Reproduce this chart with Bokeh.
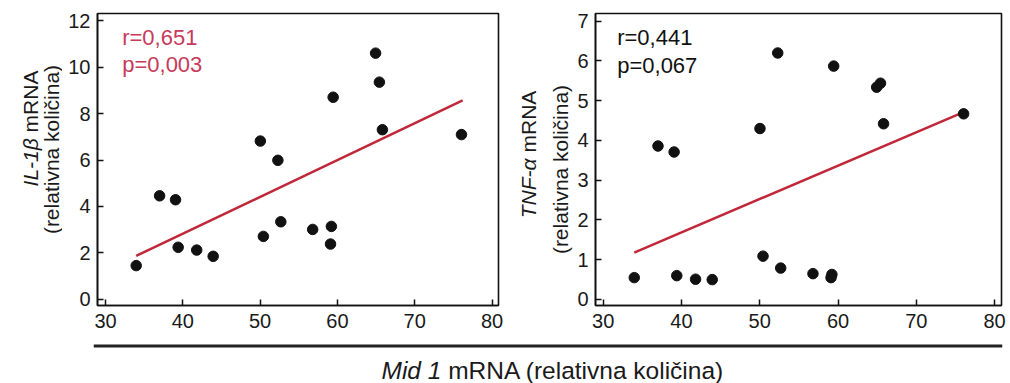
import math
from bokeh.plotting import figure
from bokeh.models import Range1d, FixedTicker, Label, Span
from bokeh.layouts import column, row
from bokeh.embed import file_html
from bokeh.resources import INLINE

# ---------------- data ----------------
mid1 = [33.97, 37.0, 39.06, 39.4, 41.8, 43.93, 50.03, 50.42, 52.3, 52.68,
        56.8, 59.22, 59.11, 59.45, 64.94, 65.43, 65.82, 76.05]
il1b = [1.45, 4.46, 4.29, 2.24, 2.12, 1.85, 6.82, 2.71, 5.99, 3.34,
        3.01, 3.14, 2.38, 8.71, 10.61, 9.36, 7.31, 7.10]
tnfa = [0.55, 3.86, 3.71, 0.60, 0.51, 0.50, 4.30, 1.09, 6.20, 0.79,
        0.65, 0.63, 0.55, 5.87, 5.34, 5.44, 4.42, 4.67]

il1b_fit_x = [33.97, 76.2]
il1b_fit_y = [1.87, 8.57]
tnfa_fit_x = [33.96, 76.12]
tnfa_fit_y = [1.18, 4.72]

x_ticks = [30, 40, 50, 60, 70, 80]
il1b_ticks = [0, 2, 4, 6, 8, 10, 12]
tnfa_ticks = [0, 1, 2, 3, 4, 5, 6, 7]

il1b_stats = ["r=0,651", "p=0,003"]
tnfa_stats = ["r=0,441", "p=0,067"]

il1b_label = ("IL-1\u03b2", "mRNA")
tnfa_label = ("TNF-\u03b1", "mRNA")
y_label_2 = "(relativna koli\u010dina)"
x_label = ("Mid 1", "mRNA (relativna koli\u010dina)")

# ---------------- styling ----------------
FONT = "Liberation Sans"
BLACK = "#111111"
TXT = "#1a1a1a"
RED_LINE = "#c0283a"
RED_TEXT = "#c73a5b"
TOP_H = 338          # height of the upper row
TOTAL_H = 383


def blank_fig(x0, x1, y_top, y_bottom, **kw):
    """Figure whose data coordinates equal canvas pixels (for text/decoration)."""
    p = figure(frame_width=int(x1 - x0), frame_height=int(y_bottom - y_top),
               x_range=Range1d(x0, x1), y_range=Range1d(y_bottom, y_top),
               min_border_left=kw.get("mbl", 0), min_border_right=kw.get("mbr", 0),
               min_border_top=0, min_border_bottom=0,
               x_axis_type=None, y_axis_type=None,
               toolbar_location=None, output_backend="svg")
    p.outline_line_color = None
    p.xgrid.visible = False
    p.ygrid.visible = False
    return p


def ylabel_fig(x0, x1, lab1, lab1_italic_w, col1, col2, c1, c2):
    p = blank_fig(x0, x1, 0, TOP_H)
    fs = 21
    total_w = (lab1_italic_w + 278 + 833 + 722 + 722 + 667) * fs / 1000.0
    start = c1 + total_w / 2.0
    p.add_layout(Label(x=col1, y=start, text=lab1[0], angle=math.pi / 2,
                       text_font=FONT, text_font_style="italic", text_font_size="21px",
                       text_color=TXT, text_align="left", text_baseline="middle"))
    second = start - (lab1_italic_w + 278) * fs / 1000.0
    p.add_layout(Label(x=col1, y=second, text=lab1[1], angle=math.pi / 2,
                       text_font=FONT, text_font_size="21px",
                       text_color=TXT, text_align="left", text_baseline="middle"))
    p.add_layout(Label(x=col2, y=c2, text=y_label_2, angle=math.pi / 2,
                       text_font=FONT, text_font_size="21px",
                       text_color=TXT, text_align="center", text_baseline="middle"))
    return p


def make_panel(fl, ft, fw, fh, xr, yr, yticks, ys, fitx, fity, stats, stats_color,
               stat_x, stat_y1, stat_y2, mb_left, mb_right):
    p = figure(frame_width=fw, frame_height=fh,
               x_range=Range1d(*xr), y_range=Range1d(*yr),
               min_border_left=mb_left, min_border_right=mb_right,
               min_border_top=ft, min_border_bottom=TOP_H - ft - fh,
               toolbar_location=None, output_backend="svg")
    p.background_fill_color = "white"
    p.border_fill_color = "white"
    p.outline_line_color = BLACK
    p.outline_line_width = 1.6
    p.xgrid.visible = False
    p.ygrid.visible = False

    for ax, ticks, so in ((p.xaxis, x_ticks, 8), (p.yaxis, yticks, 7)):
        ax.ticker = FixedTicker(ticks=ticks)
        ax.major_tick_in = 6
        ax.major_tick_out = 0
        ax.minor_tick_line_color = None
        ax.axis_line_width = 1.6
        ax.axis_line_color = BLACK
        ax.major_tick_line_color = BLACK
        ax.major_tick_line_width = 1.5
        ax.major_label_text_font = FONT
        ax.major_label_text_font_size = "20px"
        ax.major_label_text_color = TXT
        ax.major_label_standoff = so

    p.line(fitx, fity, line_color=RED_LINE, line_width=2.5)
    p.scatter(mid1, ys, size=10.5, color=BLACK)

    def dx(px):
        return xr[0] + (px - fl) / fw * (xr[1] - xr[0])

    def dy(py):
        return yr[0] + (ft + fh - py) / fh * (yr[1] - yr[0])

    for txt, py in ((stats[0], stat_y1), (stats[1], stat_y2)):
        p.add_layout(Label(x=dx(stat_x), y=dy(py), text=txt, text_font=FONT,
                           text_font_size="22px", text_color=stats_color,
                           text_align="left", text_baseline="middle"))
    return p


# left label column: canvas x 0..62 ; left panel canvas x 62..510 (frame 97..498)
lab1 = ylabel_fig(0, 62, il1b_label, 278 + 556 + 333 + 556 + 572,
                  col1=30, col2=51, c1=115, c2=136)
p1 = make_panel(fl=97, ft=12, fw=401, fh=292, xr=(28.965, 80.84), yr=(-0.27, 12.32),
                yticks=il1b_ticks, ys=il1b, fitx=il1b_fit_x, fity=il1b_fit_y,
                stats=il1b_stats, stats_color=RED_TEXT,
                stat_x=121.7, stat_y1=35.8, stat_y2=62.8,
                mb_left=97 - 62, mb_right=12)

# right label column: canvas x 510..573 ; right panel canvas x 573..1010 (frame 595..1001)
lab2 = ylabel_fig(510, 573, tnfa_label, 611 + 722 + 611 + 333 + 578,
                  col1=528, col2=560, c1=141, c2=156)
p2 = make_panel(fl=595, ft=13, fw=406, fh=292, xr=(29.016, 80.89), yr=(-0.151, 7.193),
                yticks=tnfa_ticks, ys=tnfa, fitx=tnfa_fit_x, fity=tnfa_fit_y,
                stats=tnfa_stats, stats_color=BLACK,
                stat_x=616.7, stat_y1=36.6, stat_y2=65.0,
                mb_left=595 - 573, mb_right=9)

# bottom: separator line and common x label (canvas x 0..1010, y 338..383)
p3 = blank_fig(93, 1002, TOP_H, TOTAL_H, mbl=93, mbr=8)
p3.add_layout(Span(location=345.5, dimension="width", line_width=3, line_color="#222222"))
fsx = 24.5
w_italic = 2445 * fsx / 1000.0
w_space = 278 * fsx / 1000.0
w_rest = 11279 * fsx / 1000.0
center_x = 552.5
start_x = center_x - (w_italic + w_space + w_rest) / 2.0
mid_y = 370.0
p3.add_layout(Label(x=start_x, y=mid_y, text=x_label[0], text_font=FONT,
                    text_font_style="italic", text_font_size="24.5px", text_color=TXT,
                    text_align="left", text_baseline="middle"))
p3.add_layout(Label(x=start_x + w_italic + w_space, y=mid_y, text=x_label[1],
                    text_font=FONT, text_font_size="24.5px", text_color=TXT,
                    text_align="left", text_baseline="middle"))

layout = column(row(lab1, p1, lab2, p2), p3)
open("out.html", "w").write(file_html(layout, INLINE, "Mid 1 correlations"))
